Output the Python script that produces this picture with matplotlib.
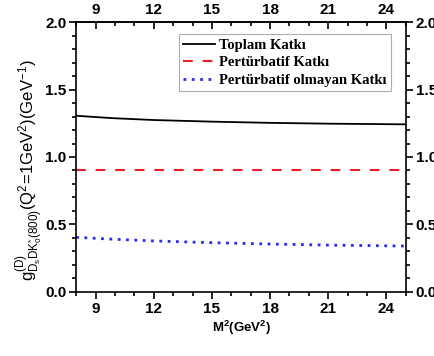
import numpy as np
import matplotlib.pyplot as plt
from matplotlib.ticker import MultipleLocator

# Borel mass M^2 (GeV^2) and contributions to the coupling
m2 = [8, 9, 10, 12, 15, 18, 21, 25]
nonpert = [0.405, 0.397, 0.390, 0.378, 0.365, 0.355, 0.347, 0.340]
pert = [0.90, 0.90, 0.90, 0.90, 0.90, 0.90, 0.90, 0.90]
total = [1.306, 1.296, 1.287, 1.274, 1.262, 1.253, 1.247, 1.242]

plt.rcParams['font.family'] = 'Liberation Sans'
plt.rcParams['mathtext.fontset'] = 'custom'
plt.rcParams['mathtext.rm'] = 'Liberation Sans'
plt.rcParams['mathtext.it'] = 'Liberation Sans'
plt.rcParams['mathtext.bf'] = 'Liberation Sans:bold'

fig = plt.figure(figsize=(4.35, 3.56), dpi=100)
ax = fig.add_axes([0.175, 0.180, 0.758, 0.758])

ax.plot(m2, total, color='black', lw=1.3, label='Toplam Katkı')
ax.plot(m2, pert, color='#ee1c25', lw=1.5, dashes=(4.7, 4.7), label='Pertürbatif Katkı')
ax.plot(m2, nonpert, color='#2b2bf0', lw=2.0, dashes=(1, 2), label='Pertürbatif olmayan Katkı')

ax.set_xlim(8, 25)
ax.set_ylim(0, 2.0)
ax.set_xticks([9, 12, 15, 18, 21, 24])
ax.xaxis.set_minor_locator(MultipleLocator(1))
ax.yaxis.set_major_locator(MultipleLocator(0.5))
ax.yaxis.set_minor_locator(MultipleLocator(0.1))
ax.yaxis.set_major_formatter(plt.FuncFormatter(lambda v, p: f'{v:.1f}'))

ax.tick_params(which='both', direction='out', top=False, right=True,
               labelright=True, width=1.2)
ax.tick_params(which='major', length=5, labelsize=11, pad=2)
ax.tick_params(which='minor', length=3)
for sp in ax.spines.values():
    sp.set_linewidth(1.2)

# top axis: same scale, ticks pointing into the plot
top = ax.secondary_xaxis('top')
top.set_xticks([9, 12, 15, 18, 21, 24])
top.xaxis.set_minor_locator(MultipleLocator(1))
top.tick_params(which='both', direction='in', width=1.2)
top.tick_params(which='major', length=5, labelsize=11, pad=4)
top.tick_params(which='minor', length=3)
top.spines['top'].set_linewidth(1.2)

for lab in (ax.get_xticklabels() + ax.get_yticklabels()
            + ax.yaxis.get_ticklabels() + top.get_xticklabels()):
    lab.set_fontweight('bold')

ax.set_xlabel(r'$\mathbf{M^2(GeV^2)}$', fontsize=9.5, labelpad=2)
ax.set_ylabel(r'$\mathregular{g^{(D)}_{D_sDK_0^{*}(800)}(Q^2\!=\!1GeV^2)(GeV^{-1})}$',
              fontsize=12)
ax.yaxis.set_label_coords(-0.095, 0.45)

leg = ax.legend(loc='upper right', bbox_to_anchor=(0.955, 0.955), fancybox=False,
                edgecolor='#999999', handlelength=2.2, handletextpad=0.25,
                borderpad=0.3, borderaxespad=0.0, labelspacing=0.3,
                prop={'family': 'Liberation Serif', 'weight': 'bold', 'size': 10.5})
leg.get_frame().set_linewidth(0.8)

fig.savefig('out.png', dpi=100)
